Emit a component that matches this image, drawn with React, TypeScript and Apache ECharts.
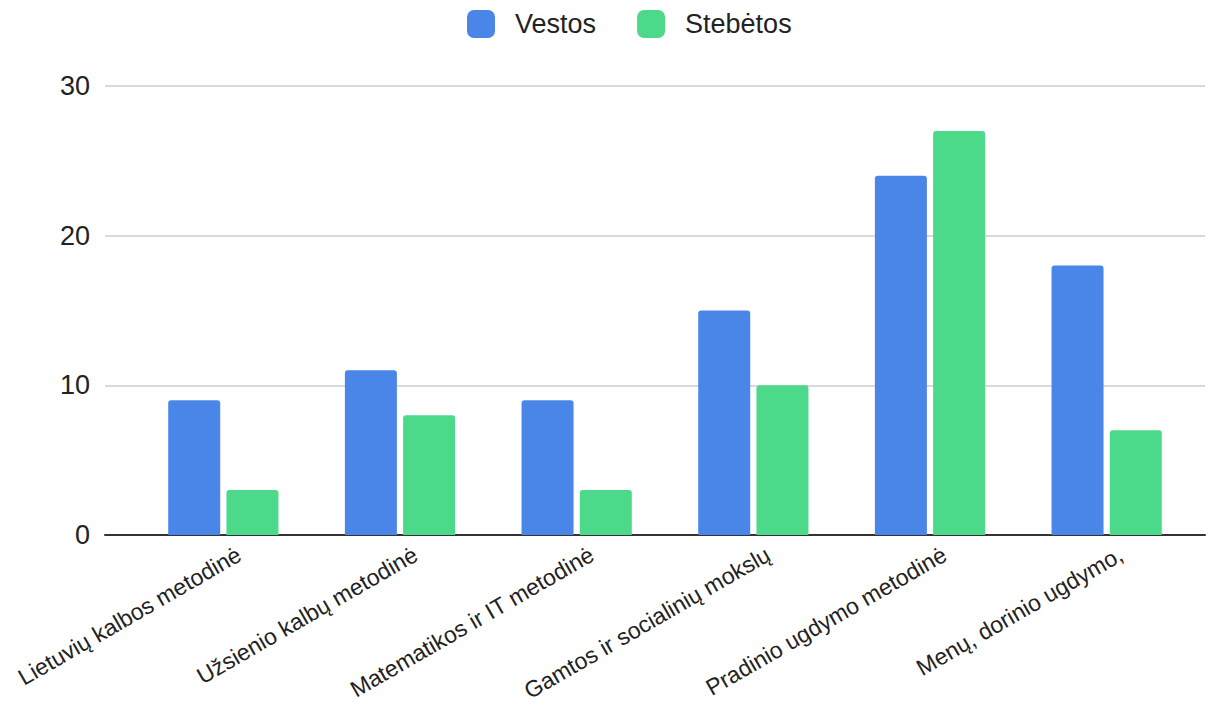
import React, { useEffect, useRef } from "react";
import * as echarts from "echarts";

const categories = [
  "Lietuvių kalbos metodinė",
  "Užsienio kalbų metodinė",
  "Matematikos ir IT metodinė",
  "Gamtos ir socialinių mokslų",
  "Pradinio ugdymo metodinė",
  "Menų, dorinio ugdymo,",
];
const vestos = [9, 11, 9, 15, 24, 18];
const stebetos = [3, 8, 3, 10, 27, 7];
const seriesNames = ["Vestos", "Stebėtos"];
const colors = ["#4a86e8", "#4cd98a"];

export default function App() {
  const ref = useRef<HTMLDivElement>(null);
  useEffect(() => {
    if (!ref.current) return;
    const chart = echarts.init(ref.current, null, { renderer: "svg" });
    const font = "Liberation Sans, Arial, sans-serif";
    const top = 78;
    const bottom = 169;
    chart.setOption({
      animation: false,
      textStyle: { fontFamily: font },
      legend: {
        top: 2,
        left: 459,
        padding: 0,
        itemWidth: 28,
        itemHeight: 28,
        itemGap: 41,
        icon: "roundRect",
        textStyle: { fontSize: 27, color: "#222", fontFamily: font, padding: [0, 0, 0, 15] },
        data: seriesNames,
      },
      grid: [
        { left: 97, right: 4, top, bottom },
        { left: 127, right: 14, top, bottom },
        { left: 143, right: -2, top, bottom },
      ],
      xAxis: [
        {
          gridIndex: 0,
          type: "category",
          data: [""],
          axisLine: { lineStyle: { color: "#333", width: 2 } },
          axisTick: { show: false },
          axisLabel: { show: false },
        },
        {
          gridIndex: 1,
          type: "category",
          data: categories,
          axisLine: { show: false },
          axisTick: { show: false },
          axisLabel: { show: false },
        },
        {
          gridIndex: 2,
          type: "category",
          data: categories,
          axisLine: { show: false },
          axisTick: { show: false },
          axisLabel: {
            rotate: 30,
            interval: 0,
            fontSize: 23,
            color: "#222",
            fontFamily: font,
            margin: 25,
          },
        },
      ],
      yAxis: [
        {
          gridIndex: 0,
          type: "value",
          min: 0,
          max: 30,
          interval: 10,
          axisLine: { show: false },
          axisTick: { show: false },
          axisLabel: { fontSize: 27, color: "#222", fontFamily: font, margin: 15 },
          splitLine: { lineStyle: { color: "#cccccc", width: 1.5 } },
        },
        {
          gridIndex: 1,
          type: "value",
          min: 0,
          max: 30,
          interval: 10,
          show: false,
          splitLine: { show: false },
        },
        {
          gridIndex: 2,
          type: "value",
          min: 0,
          max: 30,
          interval: 10,
          show: false,
          splitLine: { show: false },
        },
      ],
      series: [
        {
          name: seriesNames[0],
          type: "bar",
          xAxisIndex: 1,
          yAxisIndex: 1,
          data: vestos,
          barWidth: 52,
          barGap: "12%",
          itemStyle: { color: colors[0], borderRadius: [3, 3, 0, 0] },
        },
        {
          name: seriesNames[1],
          type: "bar",
          xAxisIndex: 1,
          yAxisIndex: 1,
          data: stebetos,
          barWidth: 52,
          barGap: "12%",
          itemStyle: { color: colors[1], borderRadius: [3, 3, 0, 0] },
        },
      ],
    });
    return () => chart.dispose();
  }, []);
  return <div ref={ref} style={{ width: 1201, height: 696 }} />;
}
